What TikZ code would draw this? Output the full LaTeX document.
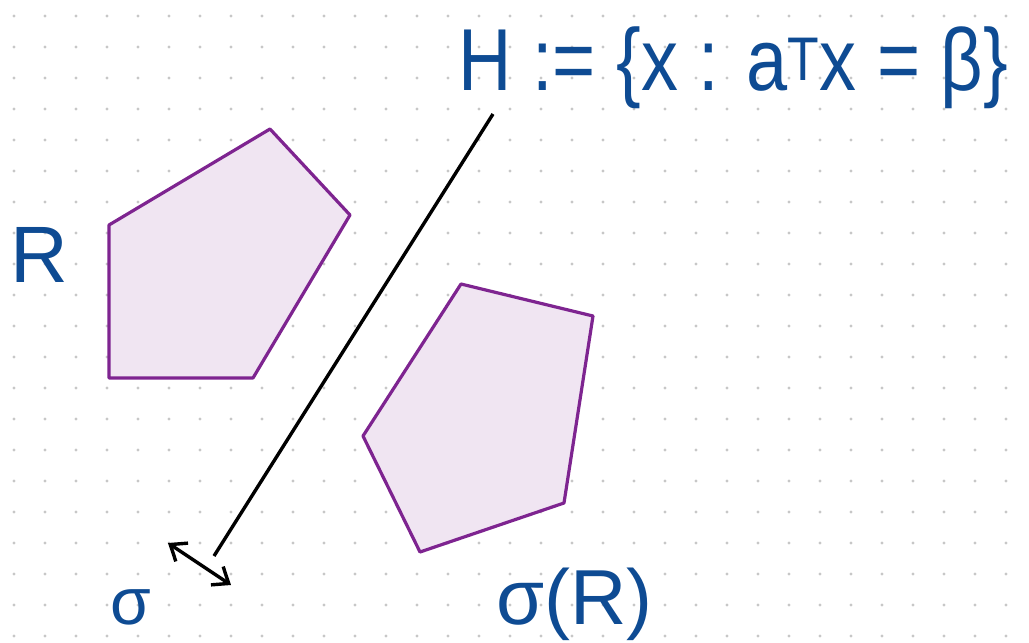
\documentclass[tikz,border=0pt]{standalone}
\usepackage{fontspec}
\setmainfont{Liberation Sans}
\usetikzlibrary{arrows.meta}
\definecolor{PLrub}{HTML}{7E2490}
\colorlet{PLpoz}{PLrub!12}
\definecolor{PLpis}{HTML}{0E4B93}

\begin{document}
\begin{tikzpicture}[x=1pt,y=-1pt,line join=round,
  regija/.style={draw=PLrub,fill=PLpoz,line width=3.2pt},
  natpis/.style={text=PLpis,inner sep=0pt}]
\useasboundingbox (0,0) rectangle (1029,643);
% tockasta mreza
\foreach \i in {0,...,32}{\foreach \j in {0,...,20}{\fill[black!22] (14+31*\i,16+31*\j) circle (1.6);}}
% oblast R i njezina slika
\draw[regija] (109,225)--(270,129)--(350,215)--(253,378)--(109,378)--cycle;
\draw[regija] (461,284)--(593,316)--(564,503)--(420,552)--(363,436)--cycle;
% hiperravnina
\coordinate (Hgore) at (493,114);
\coordinate (Hdolje) at (214,556);
\draw[line width=3.4pt] (Hgore)--(Hdolje);
\coordinate (sA) at (168,543);
\coordinate (sB) at (231,585);
\draw[line width=3.4pt,{Straight Barb[length=14pt,width=22pt]}-{Straight Barb[length=14pt,width=22pt]}] (sA)--(sB);
\node[natpis,font=\fontsize{80}{80}\selectfont,anchor=base west] (R) at (10,282) {R};
\node[natpis,font=\fontsize{88}{88}\selectfont,anchor=base west] (H) at (458,90) {\scalebox{0.84}[1]{H := \{x : a\textsuperscript{T}x = β\}}};
\node[natpis,font=\fontsize{66}{66}\selectfont,anchor=base west] (sig) at (110,624) {σ};
\node[natpis,font=\fontsize{78}{78}\selectfont,anchor=base west] (sigR) at (496,624) {σ(R)};
\end{tikzpicture}
\end{document}
